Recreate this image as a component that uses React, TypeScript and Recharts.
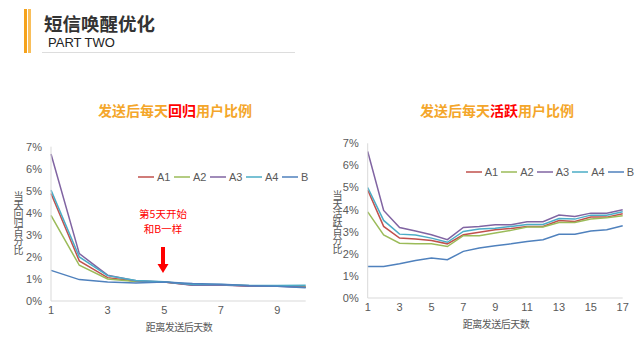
import React from "react"
import { LineChart, Line, XAxis, YAxis, Legend } from "recharts"

// 回归 chart (days 1-10), values in %
const returnDays = [1, 2, 3, 4, 5, 6, 7, 8, 9, 10]
const returnA1 = [4.88, 1.82, 1.06, 0.9, 0.86, 0.73, 0.74, 0.68, 0.68, 0.64]
const returnA2 = [3.88, 1.62, 1.0, 0.88, 0.86, 0.74, 0.74, 0.69, 0.68, 0.66]
const returnA3 = [6.67, 2.15, 1.17, 0.92, 0.86, 0.72, 0.73, 0.67, 0.67, 0.62]
const returnA4 = [5.03, 2.0, 1.15, 0.93, 0.87, 0.75, 0.75, 0.7, 0.7, 0.72]
const returnB = [1.39, 0.97, 0.86, 0.82, 0.86, 0.79, 0.76, 0.7, 0.67, 0.6]

// 活跃 chart (days 1-17), values in %
const activeDays = [1, 2, 3, 4, 5, 6, 7, 8, 9, 10, 11, 12, 13, 14, 15, 16, 17]
const activeA1 = [4.89, 3.24, 2.71, 2.67, 2.6, 2.45, 2.86, 2.97, 3.09, 3.15, 3.24, 3.24, 3.51, 3.46, 3.66, 3.66, 3.81]
const activeA2 = [3.9, 2.85, 2.48, 2.45, 2.45, 2.33, 2.82, 2.82, 2.94, 3.06, 3.21, 3.21, 3.42, 3.42, 3.57, 3.63, 3.72]
const activeA3 = [6.63, 3.96, 3.19, 3.03, 2.86, 2.64, 3.19, 3.23, 3.31, 3.31, 3.45, 3.45, 3.75, 3.69, 3.84, 3.84, 3.99]
const activeA4 = [5.0, 3.51, 2.89, 2.85, 2.71, 2.52, 3.01, 3.12, 3.16, 3.24, 3.33, 3.33, 3.6, 3.57, 3.75, 3.75, 3.9]
const activeB = [1.43, 1.43, 1.55, 1.7, 1.81, 1.73, 2.11, 2.26, 2.36, 2.45, 2.56, 2.64, 2.88, 2.88, 3.03, 3.09, 3.27]

const yTicks = [0, 1, 2, 3, 4, 5, 6, 7]
const returnTicks = [1, 3, 5, 7, 9]
const activeTicks = [1, 3, 5, 7, 9, 11, 13, 15, 17]

const seriesNames = ["A1", "A2", "A3", "A4", "B"]
const colors: Record<string, string> = {
  A1: "#C0504D",
  A2: "#9BBB59",
  A3: "#8064A2",
  A4: "#4BACC6",
  B: "#4F81BD",
}

const returnData = returnDays.map((d, i) => ({
  day: d, A1: returnA1[i], A2: returnA2[i], A3: returnA3[i], A4: returnA4[i], B: returnB[i],
}))
const activeData = activeDays.map((d, i) => ({
  day: d, A1: activeA1[i], A2: activeA2[i], A3: activeA3[i], A4: activeA4[i], B: activeB[i],
}))

const latin = '"Liberation Sans", Arial, sans-serif'
const cjk = '"Noto Sans CJK SC", "Liberation Sans", sans-serif'
const tickStyle = { fill: "#595959", fontSize: 11, fontFamily: latin }
const axisLine = { stroke: "#D9D9D9", strokeWidth: 1 }
const orange = "#F4A62A"

function LegendRow({ itemWidth }: { itemWidth: number }) {
  return (
    <div style={{ display: "flex", fontFamily: latin, fontSize: 11, color: "#595959" }}>
      {seriesNames.map((n) => (
        <div key={n} style={{ width: itemWidth, display: "flex", alignItems: "center", height: 14 }}>
          <svg width={16} height={14} style={{ marginRight: 3 }}>
            <line x1={0} y1={7} x2={16} y2={7} stroke={colors[n]} strokeWidth={1.5} />
          </svg>
          <span>{n}</span>
        </div>
      ))}
    </div>
  )
}

function DayChart({ data, domainMax, ticks, width, height, margin, yWidth, legendPos, itemWidth }: any) {
  return (
    <LineChart width={width} height={height} data={data} margin={margin}>
      <XAxis
        dataKey="day"
        type="number"
        domain={[1, domainMax]}
        ticks={ticks}
        interval={0}
        tickLine={false}
        axisLine={axisLine}
        tick={tickStyle}
        tickSize={3}
        tickMargin={2}
        height={30}
      />
      <YAxis
        domain={[0, 7]}
        ticks={yTicks}
        interval={0}
        tickFormatter={(v: number) => `${v}%`}
        tickLine={false}
        axisLine={axisLine}
        tick={tickStyle}
        tickSize={5}
        tickMargin={4}
        width={yWidth}
      />
      <Legend
        layout="horizontal"
        verticalAlign="middle"
        align="center"
        wrapperStyle={{ left: legendPos.left, top: legendPos.top, width: 190 }}
        content={() => <LegendRow itemWidth={itemWidth} />}
      />
      {seriesNames.map((n) => (
        <Line
          key={n}
          type="linear"
          dataKey={n}
          stroke={colors[n]}
          strokeWidth={1.5}
          dot={false}
          isAnimationActive={false}
        />
      ))}
    </LineChart>
  )
}

function ChartTitle({ left, top, red, pre }: { left: number; top: number; red: string; pre: string }) {
  return (
    <div
      style={{
        position: "absolute", left, top, width: 200, textAlign: "center",
        fontFamily: cjk, fontWeight: 700, fontSize: 14, color: orange, lineHeight: "18px",
      }}
    >
      {pre}
      <span style={{ color: "#FF0000" }}>{red}</span>
      用户比例
    </div>
  )
}

function VerticalLabel({ left, top, text }: { left: number; top: number; text: string }) {
  return (
    <div
      style={{
        position: "absolute", left, top, writingMode: "vertical-rl", textOrientation: "upright",
        fontFamily: cjk, fontSize: 10, letterSpacing: -1, color: "#595959", lineHeight: "12px",
      }}
    >
      {text}
    </div>
  )
}

function AxisTitle({ cx, top, text }: { cx: number; top: number; text: string }) {
  return (
    <div
      style={{
        position: "absolute", left: cx - 60, top, width: 120, textAlign: "center",
        fontFamily: cjk, fontSize: 10, letterSpacing: -0.5, color: "#595959", lineHeight: "12px",
      }}
    >
      {text}
    </div>
  )
}

export default function App() {
  return (
    <div style={{ position: "absolute", left: 0, top: 0, width: 643, height: 348, background: "#fff", overflow: "hidden" }}>
      {/* header */}
      <div style={{ position: "absolute", left: 24, top: 9, width: 2.5, height: 44, background: "#F5A21B" }} />
      <div style={{ position: "absolute", left: 27.5, top: 9, width: 3.5, height: 44, background: "#F8BE5A" }} />
      <div style={{ position: "absolute", left: 44, top: 11, fontFamily: cjk, fontWeight: 700, fontSize: 18.5, color: "#333", lineHeight: "24px" }}>
        短信唤醒优化
      </div>
      <div style={{ position: "absolute", left: 48, top: 35, fontFamily: latin, fontSize: 13, color: "#222", lineHeight: "16px" }}>
        PART TWO
      </div>
      <div style={{ position: "absolute", left: 42, top: 51.5, width: 253, height: 1, background: "#DDDDDD" }} />

      <ChartTitle left={75} top={101} pre="发送后每天" red="回归" />
      <ChartTitle left={397} top={101} pre="发送后每天" red="活跃" />

      <div style={{ position: "absolute", left: 0, top: 130 }}>
        <DayChart
          data={returnData}
          domainMax={10}
          ticks={returnTicks}
          width={320}
          height={201}
          margin={{ top: 16.7, right: 14.3, left: 0, bottom: 0 }}
          yWidth={51}
          legendPos={{ left: 138, top: 40 }}
          itemWidth={36}
        />
      </div>
      <div style={{ position: "absolute", left: 320, top: 130 }}>
        <DayChart
          data={activeData}
          domainMax={17}
          ticks={activeTicks}
          width={323}
          height={198}
          margin={{ top: 13.3, right: 20.3, left: 0, bottom: 0 }}
          yWidth={47.7}
          legendPos={{ left: 145.7, top: 35 }}
          itemWidth={35.5}
        />
      </div>

      <VerticalLabel left={12} top={191} text="当天回归百分比" />
      <VerticalLabel left={331} top={190} text="当天活跃百分比" />
      <AxisTitle cx={179} top={321} text="距离发送后天数" />
      <AxisTitle cx={496} top={318} text="距离发送后天数" />

      {/* annotation */}
      <div
        style={{
          position: "absolute", left: 113, top: 206, width: 100, textAlign: "center",
          fontFamily: cjk, fontSize: 10.5, color: "#FF0000", lineHeight: "15px",
        }}
      >
        <div>第5天开始</div>
        <div>和B一样</div>
      </div>
      <svg style={{ position: "absolute", left: 0, top: 0 }} width={643} height={348}>
        <polygon points="161,247 165,247 165,264 168.5,264 163,273 157.5,264 161,264" fill="#FF0000" />
      </svg>
    </div>
  )
}
